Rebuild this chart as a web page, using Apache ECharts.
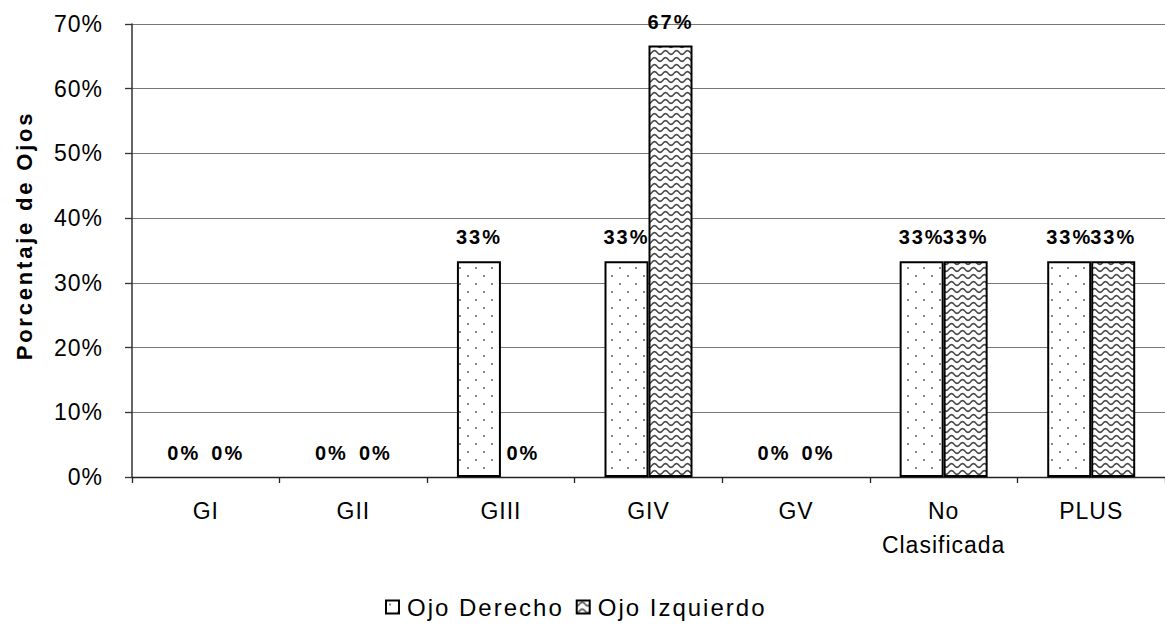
<!DOCTYPE html>
<html>
<head>
<meta charset="utf-8">
<script src="https://cdn.jsdelivr.net/npm/echarts@6/dist/echarts.min.js"></script>
<style>
  html, body { margin: 0; padding: 0; background: #fff; }
  #chart { width: 1165px; height: 632px; }
  /* spaced-out lettering for the text roles */
  #chart text[style*="23px"] { letter-spacing: 1px; }
  #chart text[style*="24px"] { letter-spacing: 2px; }
  #chart text[style*="20px"] { letter-spacing: 2px; }
  #chart text[style*="22px"] { letter-spacing: 2.8px; }
</style>
</head>
<body>
<div id="chart"></div>
<script>
// Grades of retinopathy (categories) and share of eyes per grade, in percent
const categories = ['GI', 'GII', 'GIII', 'GIV', 'GV', 'No Clasificada', 'PLUS'];
const seriesNames = ['Ojo Derecho', 'Ojo Izquierdo'];
const ojoDerecho = [0, 0, 33.33, 33.33, 0, 33.33, 33.33];
const ojoIzquierdo = [0, 0, 0, 66.67, 0, 33.33, 33.33];
const yMax = 70;
const yStep = 10;

const FONT = "'Liberation Sans', Arial, sans-serif";

// Fill tiles: sparse staggered dots and wavy lines
function dotTile() {
  const c = document.createElement('canvas');
  c.width = 16; c.height = 16;
  const g = c.getContext('2d');
  g.fillStyle = '#fff';
  g.fillRect(0, 0, 16, 16);
  g.fillStyle = '#555';
  [[4, 4], [12, 12]].forEach(([x, y]) => {
    g.beginPath();
    g.arc(x, y, 0.95, 0, Math.PI * 2);
    g.fill();
  });
  return c;
}
function waveTile() {
  const w = 11, h = 7;
  const c = document.createElement('canvas');
  c.width = w; c.height = h;
  const g = c.getContext('2d');
  g.fillStyle = '#fff';
  g.fillRect(0, 0, w, h);
  g.strokeStyle = '#4a4a4a';
  g.lineWidth = 1.6;
  g.lineJoin = 'round';
  for (const off of [-h, 0, h]) {
    g.beginPath();
    for (let x = -1; x <= w + 1; x += 0.5) {
      const y = off + 3.5 + 1.9 * Math.cos(2 * Math.PI * x / w);
      if (x === -1) g.moveTo(x, y); else g.lineTo(x, y);
    }
    g.stroke();
  }
  return c;
}

// Empty bars get no outline, so a 0 value leaves only its label
const toItems = arr => arr.map(v => v === 0 ? { value: v, itemStyle: { borderWidth: 0 } } : v);

const chart = echarts.init(document.getElementById('chart'), null, { renderer: 'svg' });

const labelOpt = {
  show: true,
  position: 'top',
  distance: 14,
  fontFamily: FONT,
  fontSize: 20,
  fontWeight: 'bold',
  color: '#000',
  formatter: p => Math.round(p.value) + '%'
};

chart.setOption({
  animation: false,
  backgroundColor: '#fff',
  grid: { left: 132, right: -8, top: 24, bottom: 155, containLabel: false },
  legend: {
    left: 380,
    top: 590,
    itemWidth: 13,
    itemHeight: 13,
    itemGap: 34,
    icon: 'rect',
    textStyle: { fontFamily: FONT, fontSize: 24, color: '#000', padding: [0, 0, 0, 3] },
    data: seriesNames
  },
  xAxis: {
    type: 'category',
    data: categories,
    axisLine: { lineStyle: { color: '#222', width: 1.3 } },
    axisTick: { show: true, length: 6, lineStyle: { color: '#222', width: 1.3 } },
    axisLabel: {
      fontFamily: FONT,
      fontSize: 23,
      color: '#000',
      margin: 17,
      lineHeight: 34,
      interval: 0,
      formatter: v => v.replace(' ', '\n')
    }
  },
  yAxis: {
    type: 'value',
    min: 0,
    max: yMax,
    interval: yStep,
    name: 'Porcentaje de Ojos',
    nameLocation: 'middle',
    nameGap: 97,
    nameTextStyle: {
      fontFamily: FONT,
      fontSize: 22,
      fontWeight: 'bold',
      color: '#000',
      padding: [0, 0, 0, 30]
    },
    axisLine: { show: true, lineStyle: { color: '#333', width: 1.5 } },
    axisTick: { show: true, length: 7, lineStyle: { color: '#333', width: 1.3 } },
    axisLabel: {
      fontFamily: FONT,
      fontSize: 23,
      color: '#000',
      margin: 29,
      formatter: '{value}%'
    },
    splitLine: { show: true, lineStyle: { color: '#777', width: 1 } }
  },
  series: [
    {
      name: seriesNames[0],
      type: 'bar',
      data: toItems(ojoDerecho),
      barWidth: 44,
      barGap: '0%',
      itemStyle: { color: { image: dotTile(), repeat: 'repeat' }, borderColor: '#000', borderWidth: 2 },
      label: labelOpt
    },
    {
      name: seriesNames[1],
      type: 'bar',
      data: toItems(ojoIzquierdo),
      barWidth: 44,
      barGap: '0%',
      itemStyle: { color: { image: waveTile(), repeat: 'repeat' }, borderColor: '#000', borderWidth: 2 },
      label: labelOpt
    }
  ]
});
</script>
</body>
</html>
